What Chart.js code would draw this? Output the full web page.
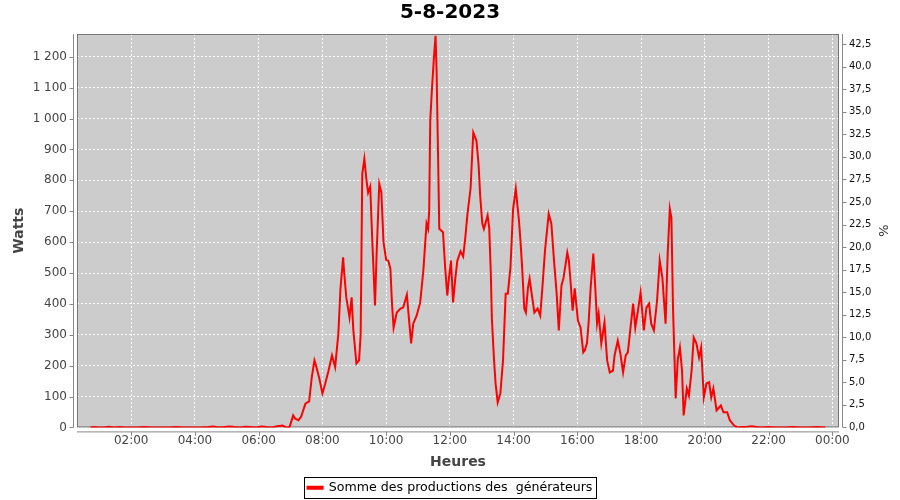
<!DOCTYPE html>
<html><head><meta charset="utf-8">
<script src="https://cdn.jsdelivr.net/npm/chart.js@4/dist/chart.umd.min.js"></script>
<style>html,body{margin:0;padding:0;background:#fff;overflow:hidden}#wrap{width:900px;height:500px;position:relative}</style>
</head><body><div id="wrap"><canvas id="c"></canvas></div>
<script>
const chartTitle = '5-8-2023';
const seriesLabel = 'Somme des productions des  générateurs';
const xTitle = 'Heures';
const yTitle = 'Watts';
const y2Title = '%';
const xTickLabels = ['02:00','04:00','06:00','08:00','10:00','12:00','14:00','16:00','18:00','20:00','22:00','00:00'];
const leftTicks = [0,100,200,300,400,500,600,700,800,900,1000,1100,1200];
const rightTicks = [0,2.5,5,7.5,10,12.5,15,17.5,20,22.5,25,27.5,30,32.5,35,37.5,40,42.5];
const times = [
'00:43','00:50','00:58','01:08','01:18','01:28','01:38','01:48','01:58','02:10','02:25','02:40','02:55','03:10','03:25','03:40','03:55','04:10','04:25','04:35','04:45','04:55','05:05','05:15','05:25','05:35','05:45','05:55','06:05','06:15','06:25','06:35','06:45','06:52',
'06:58','07:05','07:09','07:15','07:20','07:28','07:35','07:40','07:45','07:48','07:54','08:00','08:05','08:11','08:18','08:24','08:30','08:34','08:39','08:41','08:45','08:51','08:55','08:58',
'09:04','09:09','09:12','09:15','09:19','09:23','09:26','09:30','09:34','09:39','09:42','09:47','09:51','09:55',
'10:00','10:04','10:08','10:11','10:14','10:20','10:27','10:32','10:39','10:43','10:47','10:51','10:57',
'11:04','11:10','11:16','11:19','11:21','11:23','11:26','11:30','11:33','11:35','11:38','11:40','11:47','11:51','11:55','11:58',
'12:02','12:06','12:10','12:14','12:20','12:25','12:29','12:33','12:39','12:44','12:50','12:54','12:57',
'13:01','13:04','13:11','13:14','13:17','13:19','13:23','13:26','13:30','13:35','13:40','13:45','13:49','13:54','13:59',
'14:04','14:10','14:13','14:16','14:20','14:23','14:27','14:30','14:35','14:39','14:45','14:50','14:54','14:59',
'15:06','15:11','15:16','15:21','15:25','15:30','15:34','15:41','15:44','15:47','15:51','15:55',
'16:01','16:06','16:11','16:14','16:18','16:21','16:25','16:30','16:34','16:37','16:40','16:45','16:51','16:56',
'17:01','17:07','17:10','17:16','17:21','17:26','17:31','17:35','17:40','17:45','17:49','17:54','17:59',
'18:05','18:10','18:15','18:19','18:24','18:30','18:35','18:40','18:46','18:50','18:54','18:57',
'19:00','19:05','19:09','19:13','19:17','19:20','19:26','19:30','19:35','19:39','19:44','19:49','19:53','19:58',
'20:03','20:08','20:12','20:16','20:22','20:30','20:35','20:42','20:47','20:55',
'21:02','21:10','21:20','21:28','21:35','21:45','22:00','22:15','22:30','22:45','23:00','23:15','23:30','23:47'
];
const watts = [
0,1,0,0,2,0,1,0,0,0,1,0,0,0,1,0,0,0,1,3,0,1,3,1,0,2,1,0,3,1,0,4,6,0,
0,39,28,23,35,77,84,163,217,200,160,110,140,180,233,195,304,450,551,500,420,356,421,320,
207,217,300,821,870,800,760,780,600,395,560,789,760,600,
543,540,514,400,323,372,385,388,430,350,272,336,360,
404,508,660,643,702,993,1090,1200,1268,1150,850,643,632,520,427,480,
540,405,480,540,570,553,615,690,776,955,928,850,750,
660,643,686,647,500,353,220,142,81,110,217,433,433,518,708,
773,670,600,518,385,372,453,482,420,372,385,362,450,572,
692,660,540,433,314,459,485,566,540,475,378,450,
346,323,243,250,272,336,453,563,443,336,369,272,340,217,
178,184,233,281,239,178,233,243,323,401,323,378,437,
314,388,401,336,314,411,540,485,336,563,708,679,
388,94,220,259,184,39,126,103,184,291,272,226,259,97,
142,146,97,126,55,71,49,49,23,6,
0,1,2,4,2,0,1,0,0,1,0,0,1,0
];

const FONT = "'DejaVu Sans', sans-serif";
function toMin(s){ const [h,m] = s.split(':').map(Number); return h*60+m; }
const xTickValues = xTickLabels.map(s => { const v = toMin(s); return v === 0 ? 1440 : v; });
const points = times.map((t,i) => ({x: toMin(t), y: watts[i]}));
const W_PER_PCT = 29.2;
const Y_MAX = 1274;

const framePlugin = {
  id: 'frame',
  beforeDraw(chart){
    const {ctx, chartArea:a} = chart;
    ctx.save();
    ctx.fillStyle = '#ffffff'; ctx.fillRect(0,0,chart.width,chart.height);
    ctx.fillStyle = '#cccccc'; ctx.fillRect(a.left, a.top, a.right-a.left, a.bottom-a.top);
    ctx.restore();
  },
  beforeDatasetsDraw(chart){
    const {ctx, chartArea:a} = chart;
    ctx.save();
    ctx.strokeStyle = '#777'; ctx.lineWidth = 1;
    ctx.strokeRect(a.left+0.5, a.top+0.5, a.right-a.left-1, a.bottom-a.top-1);
    ctx.restore();
  },
  afterDraw(chart){
    const {ctx, chartArea:a, scales} = chart;
    ctx.save();
    ctx.strokeStyle = '#888'; ctx.lineWidth = 1;
    ctx.beginPath();
    const xl = a.left - 3.5;
    ctx.moveTo(xl, a.top); ctx.lineTo(xl, a.bottom);
    scales.y.ticks.forEach(t => { const p = Math.round(scales.y.getPixelForValue(t.value)) + 0.5; ctx.moveTo(xl, p); ctx.lineTo(xl-4, p); });
    const xr = a.right + 3.5;
    ctx.moveTo(xr, a.top); ctx.lineTo(xr, a.bottom);
    scales.y2.ticks.forEach(t => { const p = Math.round(scales.y2.getPixelForValue(t.value)) + 0.5; ctx.moveTo(xr, p); ctx.lineTo(xr+4, p); });
    const yb = a.bottom + 4.5;
    ctx.moveTo(a.left, yb); ctx.lineTo(a.right, yb);
    scales.x.ticks.forEach(t => { const p = Math.round(scales.x.getPixelForValue(t.value)) + 0.5; ctx.moveTo(p, yb); ctx.lineTo(p, yb+4); });
    ctx.stroke();
    const hb = chart.legend && chart.legend.legendHitBoxes && chart.legend.legendHitBoxes[0];
    if (hb) {
      ctx.strokeStyle = '#000'; ctx.lineWidth = 1;
      ctx.strokeRect(Math.round(hb.left - 4) + 0.5, Math.round(hb.top - 4) + 0.5, Math.round(hb.width + 7), Math.round(hb.height + 8));
      // small point marker in the middle of the legend line
      const opts = chart.legend.options.labels;
      ctx.fillStyle = '#ff0000';
      ctx.beginPath();
      ctx.arc(hb.left + opts.boxWidth / 2, hb.top + hb.height / 2, 1.8, 0, Math.PI * 2);
      ctx.fill();
    }
    ctx.restore();
  }
};

new Chart(document.getElementById('c'), {
  type: 'line',
  data: { datasets: [{
    label: seriesLabel,
    data: points,
    borderColor: '#ff0000',
    backgroundColor: '#ff0000',
    borderWidth: 2,
    pointRadius: 0,
    tension: 0,
    yAxisID: 'y'
  }]},
  options: {
    responsive: true, maintainAspectRatio: false, devicePixelRatio: 1, animation: false,
    layout: { padding: { top: 0, left: 0, right: 0, bottom: -4 } },
    plugins: {
      title: { display: true, text: chartTitle, color: '#000', font: { family: FONT, size: 20, weight: 'bold' }, padding: { top: 1, bottom: 9 } },
      legend: { display: true, position: 'bottom',
        labels: { color: '#000', font: { family: FONT, size: 12.6 }, boxWidth: 15, boxHeight: 2, padding: 8 } },
      tooltip: { enabled: false }
    },
    scales: {
      x: {
        type: 'linear', min: 18, max: 1452.5,
        afterBuildTicks: s => { s.ticks = xTickValues.map(v => ({value: v})); },
        afterFit: s => { s.height = 46; },
        ticks: { callback: (v) => { const i = xTickValues.indexOf(v); return i >= 0 ? xTickLabels[i] : ''; },
          color: '#444', font: { family: FONT, size: 12 }, padding: 6, maxRotation: 0, autoSkip: false },
        grid: { color: 'rgba(255,255,255,0.95)', drawTicks: false, lineWidth: 1 },
        border: { display: false, dash: [2,2] },
        title: { display: true, text: xTitle, color: '#444', font: { family: FONT, size: 14, weight: 'bold' }, padding: { top: 0, bottom: 3 } }
      },
      y: {
        type: 'linear', position: 'left', min: 0, max: Y_MAX,
        afterBuildTicks: s => { s.ticks = leftTicks.map(v => ({value: v})); },
        afterFit: s => { s.width = 77; },
        ticks: { callback: v => String(v).replace(/\B(?=(\d{3})+(?!\d))/g, ' '), color: '#444', font: { family: FONT, size: 12 }, padding: 10 },
        grid: { color: 'rgba(255,255,255,0.95)', drawTicks: false, lineWidth: 1 },
        border: { display: false, dash: [2,2] },
        title: { display: true, text: yTitle, color: '#444', font: { family: FONT, size: 14, weight: 'bold' }, padding: { top: 11, bottom: 0 } }
      },
      y2: {
        type: 'linear', position: 'right', min: 0, max: Y_MAX / W_PER_PCT,
        afterBuildTicks: s => { s.ticks = rightTicks.map(v => ({value: v})); },
        afterFit: s => { s.width = 61; },
        ticks: { callback: v => v.toFixed(1).replace('.', ','), color: '#111', font: { family: FONT, size: 10 }, padding: 10 },
        grid: { display: false, drawTicks: false },
        border: { display: false },
        title: { display: true, text: y2Title, color: '#333', font: { family: FONT, size: 13 }, padding: { top: 10, bottom: 0 } }
      }
    }
  },
  plugins: [framePlugin]
});
</script>
</body></html>
